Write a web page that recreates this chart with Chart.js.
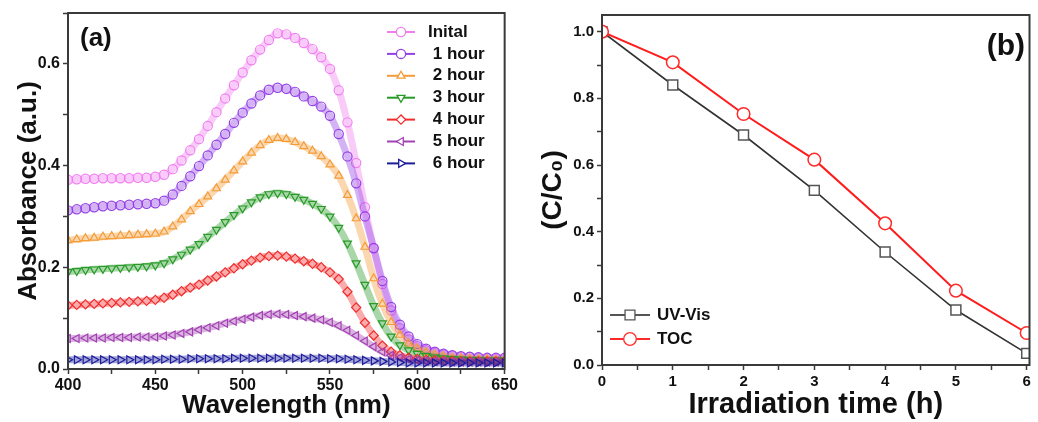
<!DOCTYPE html>
<html>
<head>
<meta charset="utf-8">
<script src="https://cdn.jsdelivr.net/npm/chart.js@4.4.1/dist/chart.umd.min.js"></script>
<style>
  html, body { margin: 0; padding: 0; background: #fff; }
  #wrap { position: relative; width: 1038px; height: 422px; }
  canvas { position: absolute; top: 0; }
  #chartA { left: 0; }
  #chartB { left: 520px; }
</style>
</head>
<body>
<div id="wrap">
  <canvas id="chartA" width="520" height="422"></canvas>
  <canvas id="chartB" width="518" height="422"></canvas>
</div>
<script>
const wavelengths = [
  400, 405, 410, 415, 420, 425, 430, 435, 440, 445,
  450, 455, 460, 465, 470, 475, 480, 485, 490, 495,
  500, 505, 510, 515, 520, 525, 530, 535, 540, 545,
  550, 555, 560, 565, 570, 575, 580, 585, 590, 595,
  600, 605, 610, 615, 620, 625, 630, 635, 640, 645, 650
];
const initial = [
  0.372, 0.373, 0.374, 0.374, 0.375, 0.375, 0.375, 0.375, 0.376, 0.376,
  0.378, 0.382, 0.393, 0.410, 0.430, 0.452, 0.478, 0.505, 0.532, 0.558,
  0.583, 0.607, 0.628, 0.647, 0.660, 0.658, 0.651, 0.641, 0.629, 0.613,
  0.590, 0.548, 0.485, 0.405, 0.318, 0.237, 0.167, 0.115, 0.080, 0.058,
  0.045, 0.037, 0.032, 0.028, 0.026, 0.024, 0.023, 0.022, 0.021, 0.020, 0.020
];
const hour1 = [
  0.312, 0.314, 0.316, 0.318, 0.320, 0.321, 0.322, 0.323, 0.324, 0.325,
  0.326, 0.331, 0.343, 0.360, 0.379, 0.399, 0.420, 0.441, 0.462, 0.484,
  0.504, 0.522, 0.538, 0.549, 0.553, 0.551, 0.545, 0.536, 0.527, 0.516,
  0.498, 0.462, 0.418, 0.365, 0.300, 0.238, 0.173, 0.122, 0.087, 0.064,
  0.049, 0.040, 0.034, 0.030, 0.027, 0.025, 0.024, 0.023, 0.022, 0.022, 0.022
];
const hour2 = [
  0.253, 0.255, 0.257, 0.258, 0.260, 0.261, 0.262, 0.263, 0.264, 0.265,
  0.266, 0.270, 0.280, 0.294, 0.310, 0.324, 0.339, 0.355, 0.372, 0.390,
  0.408, 0.425, 0.440, 0.450, 0.454, 0.452, 0.446, 0.438, 0.429, 0.418,
  0.402, 0.380, 0.342, 0.296, 0.240, 0.178, 0.128, 0.092, 0.067, 0.050,
  0.040, 0.033, 0.028, 0.025, 0.022, 0.021, 0.020, 0.019, 0.019, 0.018, 0.018
];
const hour3 = [
  0.191, 0.193, 0.195, 0.196, 0.197, 0.198, 0.199, 0.200, 0.201, 0.202,
  0.204, 0.208, 0.216, 0.225, 0.235, 0.246, 0.260, 0.274, 0.289, 0.303,
  0.316, 0.328, 0.338, 0.344, 0.346, 0.344, 0.339, 0.333, 0.325, 0.315,
  0.300, 0.278, 0.247, 0.208, 0.166, 0.124, 0.090, 0.064, 0.047, 0.037,
  0.030, 0.026, 0.023, 0.021, 0.020, 0.019, 0.018, 0.018, 0.017, 0.017, 0.017
];
const hour4 = [
  0.125, 0.126, 0.127, 0.128, 0.129, 0.130, 0.131, 0.132, 0.133, 0.134,
  0.136, 0.140, 0.146, 0.153, 0.160, 0.166, 0.174, 0.182, 0.190, 0.198,
  0.206, 0.213, 0.219, 0.222, 0.223, 0.221, 0.217, 0.212, 0.207, 0.200,
  0.190, 0.177, 0.152, 0.121, 0.091, 0.066, 0.046, 0.034, 0.027, 0.022,
  0.020, 0.018, 0.017, 0.016, 0.016, 0.015, 0.015, 0.015, 0.015, 0.015, 0.015
];
const hour5 = [
  0.060, 0.060, 0.061, 0.061, 0.061, 0.062, 0.062, 0.062, 0.063, 0.063,
  0.063, 0.065, 0.067, 0.070, 0.073, 0.077, 0.081, 0.085, 0.090, 0.094,
  0.098, 0.102, 0.105, 0.107, 0.108, 0.107, 0.105, 0.103, 0.100, 0.097,
  0.092, 0.085, 0.076, 0.066, 0.055, 0.044, 0.034, 0.027, 0.022, 0.019,
  0.017, 0.016, 0.015, 0.015, 0.014, 0.014, 0.014, 0.014, 0.014, 0.014, 0.014
];
const hour6 = [
  0.018, 0.018, 0.018, 0.018, 0.018, 0.018, 0.018, 0.018, 0.018, 0.018,
  0.018, 0.019, 0.019, 0.019, 0.020, 0.020, 0.020, 0.020, 0.020, 0.021,
  0.021, 0.021, 0.021, 0.021, 0.021, 0.021, 0.021, 0.021, 0.021, 0.021,
  0.020, 0.020, 0.019, 0.018, 0.017, 0.016, 0.015, 0.014, 0.013, 0.012,
  0.012, 0.012, 0.012, 0.012, 0.012, 0.012, 0.012, 0.012, 0.012, 0.012, 0.012
];
const spectra = [initial, hour1, hour2, hour3, hour4, hour5, hour6];
const seriesNames = ['Inital', ' 1 hour', ' 2 hour', ' 3 hour', ' 4 hour', ' 5 hour', ' 6 hour'];
const seriesColors = ['#f07ef0', '#9440e6', '#f59c38', '#279a27', '#f22c2c', '#a242b2', '#1d1d9c'];
const seriesMarkers = ['circle', 'circle', 'triangle', 'triangle', 'rectRot', 'triangle', 'triangle'];
const markerTurns = [0, 0, 0, 180, 0, 270, 90];

// ---- panel (b): C/C0 vs irradiation time ----
const hours = [0, 1, 2, 3, 4, 5, 6];
const uvVis = [1.0, 0.84, 0.69, 0.524, 0.339, 0.165, 0.035];
const toc = [1.0, 0.908, 0.753, 0.616, 0.425, 0.223, 0.096];

const FONT = "'Liberation Sans', Arial, sans-serif";
const INK = '#111';
const AXIS = '#3a3a3a';

Chart.defaults.font.family = FONT;
Chart.defaults.color = INK;

function drawMarker(ctx, style, rotation, radius, x, y, color, fill) {
  ctx.save();
  ctx.strokeStyle = color;
  ctx.fillStyle = fill;
  ctx.lineWidth = 1.3;
  Chart.helpers.drawPoint(ctx, { pointStyle: style, rotation: rotation, radius: radius, borderWidth: 1.3 }, x, y);
  ctx.restore();
}

// box around the plot area (Origin style frame)
const framePlugin = {
  id: 'frame',
  afterDraw(chart) {
    const { ctx, chartArea: a } = chart;
    ctx.save();
    ctx.strokeStyle = AXIS;
    ctx.lineWidth = 2;
    ctx.strokeRect(a.left, a.top, a.right - a.left, a.bottom - a.top);
    ctx.restore();
  }
};

// legend drawn inside the plot area, line + marker + label
function insideLegend(o) {
  return {
    id: 'insideLegend',
    afterDraw(chart) {
      const ctx = chart.ctx;
      ctx.save();
      ctx.font = 'bold ' + o.size + 'px ' + FONT;
      ctx.textBaseline = 'middle';
      chart.data.datasets.forEach((ds, i) => {
        const y = o.y + i * o.step;
        ctx.strokeStyle = ds.pointBorderColor;
        ctx.lineWidth = o.lineWidth;
        ctx.beginPath();
        ctx.moveTo(o.x1, y);
        ctx.lineTo(o.x2, y);
        ctx.stroke();
        drawMarker(ctx, ds.pointStyle, ds.pointRotation || 0, ds.pointRadius, (o.x1 + o.x2) / 2, y, ds.pointBorderColor, '#fff');
        ctx.fillStyle = INK;
        ctx.fillText(ds.label, o.tx, y);
      });
      ctx.restore();
    }
  };
}

function panelLetter(text, x, y, size, align) {
  return {
    id: 'panelLetter',
    afterDraw(chart) {
      const ctx = chart.ctx;
      ctx.save();
      ctx.font = 'bold ' + size + 'px ' + FONT;
      ctx.fillStyle = INK;
      ctx.textAlign = align;
      ctx.textBaseline = 'middle';
      ctx.fillText(text, x, y);
      ctx.restore();
    }
  };
}

function axisStyle(extra) {
  return Object.assign({
    type: 'linear',
    border: { color: AXIS, width: 2 },
    grid: { drawOnChartArea: false, tickLength: 5, tickColor: AXIS, tickWidth: 1.5 }
  }, extra);
}

// ---------- chart (a) ----------
new Chart(document.getElementById('chartA'), {
  type: 'line',
  data: {
    datasets: spectra.map((vals, i) => ({
      label: seriesNames[i],
      data: wavelengths.map((w, k) => ({ x: w, y: vals[k] })),
      // wide pale stroke imitates the dense band of overlapping symbols
      borderColor: seriesColors[i] + '66',
      borderWidth: 7,
      pointStyle: seriesMarkers[i],
      pointRotation: markerTurns[i],
      pointRadius: 4.6,
      pointBorderWidth: 1.2,
      pointBorderColor: seriesColors[i],
      pointBackgroundColor: 'rgba(255,255,255,0)',
      cubicInterpolationMode: 'monotone',
      clip: 0,
      order: spectra.length - i
    }))
  },
  options: {
    responsive: false,
    animation: false,
    layout: { padding: { left: 0, right: 13, top: 13, bottom: 0 } },
    plugins: { legend: { display: false }, tooltip: { enabled: false } },
    scales: {
      x: axisStyle({
        position: 'bottom',
        min: 400, max: 650,
        ticks: {
          stepSize: 25, autoSkip: false, maxRotation: 0, includeBounds: false, padding: 2,
          font: { size: 16, weight: 'bold' },
          callback: v => (v % 50 === 0 ? v : '')
        },
        title: { display: true, text: 'Wavelength (nm)', font: { size: 26, weight: 'bold' }, padding: { top: 0, bottom: 1 } },
        afterFit: s => { s.height = 53; }
      }),
      y: axisStyle({
        position: 'left',
        min: 0, max: 0.7,
        ticks: {
          stepSize: 0.1, autoSkip: false, includeBounds: false, padding: 3,
          font: { size: 16, weight: 'bold' },
          callback: v => (Math.round(v * 10) % 2 === 0 ? v.toFixed(1) : '')
        },
        title: { display: true, text: 'Absorbance (a.u.)', font: { size: 26, weight: 'bold' }, padding: { top: 13, bottom: 0 } },
        afterFit: s => { s.width = 68; }
      })
    }
  },
  plugins: [framePlugin, insideLegend({ x1: 387, x2: 415, tx: 428, y: 32, step: 21.9, size: 17, lineWidth: 2 }), panelLetter('(a)', 80, 39, 26, 'left')]
});

// ---------- chart (b) ----------
new Chart(document.getElementById('chartB'), {
  type: 'line',
  data: {
    datasets: [
      {
        label: 'UV-Vis',
        data: hours.map((h, k) => ({ x: h, y: uvVis[k] })),
        borderColor: '#333',
        borderWidth: 1.6,
        pointStyle: 'rect',
        pointRadius: 7,
        pointBorderWidth: 1.5,
        pointBorderColor: '#555',
        pointBackgroundColor: '#fff',
        order: 2
      },
      {
        label: 'TOC',
        data: hours.map((h, k) => ({ x: h, y: toc[k] })),
        borderColor: '#ff1c1c',
        borderWidth: 2,
        pointStyle: 'circle',
        pointRadius: 6.3,
        pointBorderWidth: 1.5,
        pointBorderColor: '#ff2a2a',
        pointBackgroundColor: '#fff',
        order: 1
      }
    ]
  },
  options: {
    responsive: false,
    animation: false,
    layout: { padding: { left: 0, right: 5, top: 15, bottom: 0 } },
    plugins: { legend: { display: false }, tooltip: { enabled: false } },
    scales: {
      x: axisStyle({
        position: 'bottom',
        min: 0, max: 6.04,
        ticks: {
          stepSize: 0.5, autoSkip: false, maxRotation: 0, includeBounds: false, padding: 3,
          font: { size: 15, weight: 'bold' },
          callback: v => (Number.isInteger(v) ? v : '')
        },
        title: { display: true, text: 'Irradiation time (h)', font: { size: 29, weight: 'bold' }, padding: { top: 0, bottom: 0 } },
        afterFit: s => { s.height = 57; }
      }),
      y: axisStyle({
        position: 'left',
        min: 0, max: 1.05,
        ticks: {
          stepSize: 0.1, autoSkip: false, includeBounds: false, padding: 3,
          font: { size: 15, weight: 'bold' },
          callback: v => (Math.round(v * 10) % 2 === 0 ? v.toFixed(1) : '')
        },
        title: { display: true, text: '(C/C\u2080)', font: { size: 28, weight: 'bold' }, padding: { top: 16, bottom: 0 } },
        afterFit: s => { s.width = 82; }
      })
    }
  },
  plugins: [framePlugin, insideLegend({ x1: 90, x2: 130, tx: 137, y: 315, step: 24, size: 17, lineWidth: 2 }), panelLetter('(b)', 505, 47, 30, 'right')]
});
</script>
</body>
</html>
